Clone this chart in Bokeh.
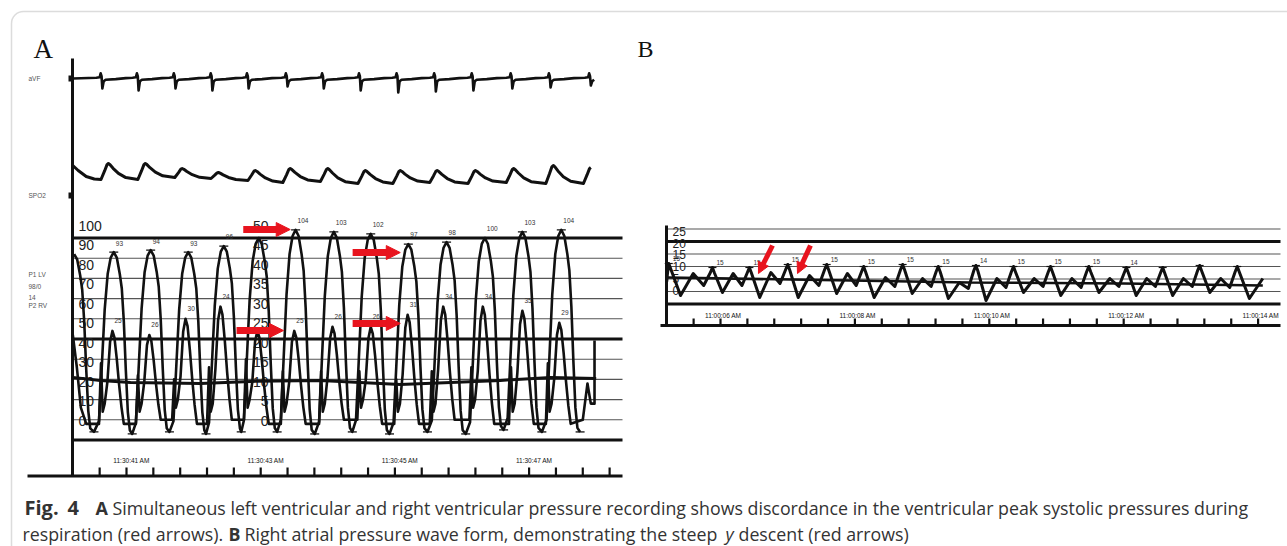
import math
from bokeh.plotting import figure
from bokeh.models import Range1d, Arrow, NormalHead, BoxAnnotation
from bokeh.core.properties import value
from bokeh.embed import file_html
from bokeh.resources import INLINE

# ===================== DATA =====================
# ---- Panel A (time = seconds after 11:30:00 AM) ----
ecg_t = [40.64, 41.18, 41.73, 42.28, 42.82, 43.40, 43.94, 44.49, 45.05, 45.61, 46.17, 46.75, 47.32, 47.92]
ecg_q = [-0.5, -0.6, -0.5, -0.6, -0.5, -0.4, -0.5, -0.6, -0.7, -0.65, -0.6, -0.5, -0.45, -0.35]

pleth_start_t = [40.20, 40.28, 40.40, 40.52]
pleth_start_v = [15, 10, 4, 1.5]
pleth_t = [40.73, 41.28, 41.83, 42.37, 42.92, 43.44, 44.00, 44.56, 45.08, 45.63, 46.20, 46.77, 47.36, 47.92]
pleth_peak = [17, 17, 12, 8, 10, 12, 12, 10, 10, 10, 10, 12, 15, 13]
pleth_trough = [1, 1, 3, 2, 0, -2, -1, -3, -3, -2, -3, -2, -3, -3]

lv_t = [40.22, 40.81, 41.36, 41.92, 42.45, 42.97, 43.52, 44.09, 44.64, 45.20, 45.77, 46.34, 46.90, 47.48]
lv_peak = [92, 93, 94, 93, 96, 100, 104, 103, 102, 97, 98, 100, 103, 104]
lv_min = [4, 3, 4, 3, 4, 4, 3, 4, 3, 4, 3, 5, 4, 4]
lv_label = ["", "93", "94", "93", "96", "", "104", "103", "102", "97", "98", "100", "103", "104"]

rv_start_t = [40.20, 40.26, 40.32, 40.40]
rv_start_v = [26, 18, 8, 4]
rv_t = [40.79, 41.34, 41.88, 42.40, 42.95, 43.50, 44.07, 44.64, 45.19, 45.72, 46.31, 46.90, 47.45]
rv_peak = [27, 26, 30, 33, 27, 27, 28, 28, 31, 33, 33, 32, 29]
rv_spike = [19, 16, 15, 18, 20, 17, 17, 17, 15, 17, 18, 18, 19]
rv_min = [4, 5, 4, 5, 4, 4, 5, 4, 4, 5, 4, 4, 4]
rv_label = ["25", "26", "30", "24", "", "25", "26", "26", "31", "34", "34", "35", "29"]
rv_tail_t = [47.80, 47.87, 47.92, 47.975, 47.975]
rv_tail_v = [5, 14, 9, 9, 24.6]

mean_t = [40.20, 40.61, 41.06, 42.10, 42.85, 43.89, 45.08, 45.83, 46.57, 47.32, 48.00]
mean_v = [31, 29.5, 28.5, 28, 29, 29.5, 27.5, 28.5, 29.5, 31, 30.5]

lv_scale = [100, 90, 80, 70, 60, 50, 40, 30, 20, 10, 0]
rv_scale = [50, 45, 40, 35, 30, 25, 20, 15, 10, 5, 0]
timeA_t = [41, 43, 45, 47]
timeA_labels = ["11:30:41 AM", "11:30:43 AM", "11:30:45 AM", "11:30:47 AM"]
channel_labels = ["aVF", "SPO2", "P1 LV", "98/0", "14", "P2 RV"]

# ---- Panel B (time = seconds after 11:00:00 AM) ----
ra_start_t, ra_start_v = 5.20, 4.0
ra_t = [5.23, 5.88, 6.43, 7.00, 7.58, 8.13, 8.71, 9.24, 9.80, 10.36, 10.91, 11.48, 12.04, 12.58, 13.13, 13.69]
ra_peak = [11.2, 9.6, 9.6, 10.8, 10.8, 10.0, 10.8, 10.0, 10.4, 10.0, 10.0, 10.0, 9.6, 9.6, 10.4, 10.0]
ra_trough = [-1.6, -0.4, -2.4, -2.4, -0.8, -2.4, -0.8, -2.8, -3.6, -0.4, -1.6, -0.4, -1.6, -1.6, -0.4, -2.8]
ra_bump = [7.2, 7.2, 7.6, 6.4, 7.2, 5.6, 5.2, 3.6, 5.2, 5.2, 5.2, 5.2, 5.2, 5.2, 5.2]
ra_dip = [2.4, 2.4, 3.2, 2.4, 2.4, 2.0, 2.0, 1.2, 1.6, 2.0, 1.6, 2.0, 2.0, 2.0, 1.6]
ra_end_t, ra_end_v = 14.07, 5.2
ra_label = ["15", "15", "15", "15", "15", "15", "15", "15", "14", "15", "15", "15", "14", "", "", ""]
ra_mean_t = [5.21, 9.70, 12.0, 14.07]
ra_mean_v = [5.6, 3.6, 3.2, 2.4]
ra_scale = [25, 20, 15, 10, 5, 0]
timeB_t = [6, 8, 10, 12, 14]
timeB_labels = ["11:00:06 AM", "11:00:08 AM", "11:00:10 AM", "11:00:12 AM", "11:00:14 AM"]

caption1 = "Simultaneous left ventricular and right ventricular pressure recording shows discordance in the ventricular peak systolic pressures during"
caption2a = "respiration (red arrows)."
caption2b = "Right atrial pressure wave form, demonstrating the steep"
caption2c = "descent (red arrows)"

# ===================== LAYOUT HELPERS =====================
W, H = 1287, 546
FX0, FX1, FY0, FY1 = 0, W, 0, H
def tA(px): return 41 + (px - 126) / 67.1
def pA(py): return (439.5 - py) / 2.02
def ecg(py): return (78 - py) / 20.0
def pl(py): return 180 - py
def tB(px): return 6 + (px - 720) / 67.2
def pB(py): return (291 - py) / 2.5

RED = "#e8141e"
INK = "#111111"
GRID = "#555555"
SANS = value("Liberation Sans")
SERIF = value("Liberation Serif")
CAPF = value("Open Sans")

p = figure(width=W, height=H, x_range=Range1d(FX0, FX1), y_range=Range1d(FY1, FY0),
           output_backend="svg", toolbar_location=None, min_border=0,
           x_axis_location=None, y_axis_location=None,
           background_fill_color="white", border_fill_color="white", outline_line_color=None)
p.xgrid.visible = False
p.ygrid.visible = False
p.extra_x_ranges = {"tA": Range1d(tA(FX0), tA(FX1)), "tB": Range1d(tB(FX0), tB(FX1))}
p.extra_y_ranges = {"pA": Range1d(pA(FY1), pA(FY0)), "rA": Range1d(pA(FY1) / 2, pA(FY0) / 2),
                    "ecg": Range1d(ecg(FY1), ecg(FY0)), "pl": Range1d(pl(FY1), pl(FY0)),
                    "pB": Range1d(pB(FY1), pB(FY0))}

# frame
p.add_layout(BoxAnnotation(left=11, right=1330, top=11, bottom=556, fill_alpha=0,
                           line_color="#8a8a8a", line_width=1.5, border_radius=12))

# ===================== PANEL A =====================
A = dict(x_range_name="tA", y_range_name="pA")
thin = [v for v in lv_scale if v not in (0, 50, 100)]
thick = [0, 50, 100]
p.segment(x0=[tA(72)] * len(thin), x1=[tA(622)] * len(thin), y0=thin, y1=thin, line_color=GRID, line_width=1.1, **A)
p.segment(x0=[tA(72)] * 3, x1=[tA(622)] * 3, y0=thick, y1=thick, line_color=INK, line_width=3, **A)

# axes
p.segment(x0=[tA(72)], x1=[tA(72)], y0=[pA(58)], y1=[pA(476)], line_color=INK, line_width=3, **A)
p.segment(x0=[tA(27)], x1=[tA(622)], y0=[pA(475.5)], y1=[pA(475.5)], line_color=INK, line_width=3.2, **A)
p.line(x=[tA(74), tA(622)], y=[pA(473)], line_color=INK, line_width=1.5, line_dash="1 2", **A)
ticks = [40.6 + 0.4 * k for k in range(20)]
p.segment(x0=ticks, x1=ticks, y0=[pA(475)] * len(ticks), y1=[pA(467)] * len(ticks), line_color=INK, line_width=2.2, **A)
p.text(x=[t + 0.075 for t in timeA_t], y=[pA(460)] * 4, text=timeA_labels, text_font=SANS,
       text_font_size="6.5px", text_color=INK, text_align="center", text_baseline="middle", **A)
# channel markers
p.segment(x0=[tA(68)], x1=[tA(72)], y0=[ecg(78)], y1=[ecg(78)], line_color=INK, line_width=6,
          x_range_name="tA", y_range_name="ecg")
p.segment(x0=[tA(68)], x1=[tA(72)], y0=[pl(195)], y1=[pl(195)], line_color=INK, line_width=6,
          x_range_name="tA", y_range_name="pl")
p.text(x=[28] * 6, y=[78, 195, 274, 286, 297, 305], text=channel_labels, text_font=SANS,
       text_font_size="6.5px", text_color="#555555", text_baseline="middle")

# scale labels
p.text(x=[tA(78)] * len(lv_scale), y=[v * 0.965 + 9.6 for v in lv_scale], text=[str(v) for v in lv_scale],
       text_font=SANS, text_font_size="14px", text_color="#222222", text_baseline="middle", **A)
p.text(x=[tA(268)] * len(rv_scale), y=[v * 1.93 + 9.6 for v in rv_scale], text=[str(v) for v in rv_scale],
       text_font=SANS, text_font_size="14px", text_color="#222222", text_baseline="middle", text_align="right", **A)

# ECG
ECG_SHAPE = [(-0.09, 0.04), (-0.04, 0.06), (-0.025, 0.26), (-0.012, 0.12), (0.0, None),
             (0.02, -0.14), (0.05, -0.06), (0.2, -0.03), (0.35, 0.02)]
ex, ey = [tA(72.5)], [0.0]
for i, (t0, q) in enumerate(zip(ecg_t, ecg_q)):
    for off, v in ECG_SHAPE:
        if i == len(ecg_t) - 1 and off > 0.05:
            break
        ex.append(t0 + off)
        ey.append(q if v is None else v)
p.line(ex, ey, line_color=INK, line_width=2.6, line_join="round", x_range_name="tA", y_range_name="ecg")

# Pleth
PL_RISE = [(-0.11, 0.0), (-0.055, 0.55), (-0.02, 0.93), (0.0, 1.0)]
PL_FALL = [(0.025, 0.92), (0.07, 0.7), (0.15, 0.38), (0.26, 0.12)]
plx, ply = list(pleth_start_t), list(pleth_start_v)
for i, t0 in enumerate(pleth_t):
    tr, pk = pleth_trough[i], pleth_peak[i]
    for off, f in PL_RISE:
        plx.append(t0 + off); ply.append(tr + f * (pk - tr))
    if i < len(pleth_t) - 1:
        tr2 = pleth_trough[i + 1]
        for off, f in PL_FALL:
            plx.append(t0 + off); ply.append(tr2 + f * (pk - tr2))
p.line(plx, ply, line_color=INK, line_width=3, line_join="round", x_range_name="tA", y_range_name="pl")

# mean trace
p.line(mean_t, mean_v, line_color=INK, line_width=3, line_join="round", **A)

# LV
LV_SHAPE = [(-0.22, 0.06), (-0.18, 0.35), (-0.135, 0.68), (-0.09, 0.88), (-0.045, 0.97), (0, 1.0),
            (0.045, 0.97), (0.09, 0.88), (0.12, 0.8), (0.15, 0.62), (0.18, 0.35), (0.21, 0.12), (0.24, 0.02)]
lx, ly, lvtx = [], [], []
for i, t0 in enumerate(lv_t):
    prev = lv_min[i - 1] if i > 0 else lv_min[0]
    for off, f in LV_SHAPE:
        if i == 0 and off < 0:
            continue
        base = prev if off < 0 else lv_min[i]
        lx.append(t0 + off); ly.append(base + f * (lv_peak[i] - base))
    tm = (t0 + lv_t[i + 1]) / 2 if i < len(lv_t) - 1 else t0 + 0.28
    lx.append(tm); ly.append(lv_min[i]); lvtx.append(tm)
p.line(lx, ly, line_color=INK, line_width=2.6, line_join="round", **A)
p.scatter(x=lv_t[1:], y=lv_peak[1:], marker="dash", size=9, line_width=1.3, color=INK, **A)
p.scatter(x=lvtx, y=lv_min, marker="dash", size=9, line_width=1.3, color=INK, **A)
p.text(x=[t + 0.03 for t in lv_t], y=[v + 4.5 for v in lv_peak], text=lv_label, text_font=SANS,
       text_font_size="6.5px", text_color="#333333", text_baseline="middle", **A)

# RV
R = dict(x_range_name="tA", y_range_name="rA")
RV_SHAPE = [(-0.20, "prev", 0), (-0.17, "spike", 0), (-0.145, "prev", 3), (-0.115, "prev", 5),
            (-0.075, "f", 0.45), (-0.035, "f", 0.88), (0, "f", 1.0), (0.03, "f", 0.93), (0.065, "f", 0.7),
            (0.10, "f", 0.42), (0.135, "f", 0.18), (0.17, "min", 0)]
rx, ry = list(rv_start_t), list(rv_start_v)
for i, t0 in enumerate(rv_t):
    prev = rv_min[i - 1] if i > 0 else rv_start_v[-1]
    for off, kind, f in RV_SHAPE:
        if kind == "prev":
            v = prev + f
        elif kind == "spike":
            v = rv_spike[i]
        elif kind == "min":
            v = rv_min[i]
        else:
            v = rv_min[i] + f * (rv_peak[i] - rv_min[i])
        rx.append(t0 + off); ry.append(v)
rx += rv_tail_t
ry += rv_tail_v
p.line(rx, ry, line_color=INK, line_width=2.6, line_join="round", **R)
p.text(x=[t + 0.03 for t in rv_t], y=[v + 2.5 for v in rv_peak], text=rv_label, text_font=SANS,
       text_font_size="6.5px", text_color="#333333", text_baseline="middle", **R)

# red arrows (annotation positions: tail t, value, tip t, value)
arrowsA = [(42.74, 104.2, 43.44, 104.2), (42.64, 54.2, 43.34, 54.2),
           (44.37, 92.8, 45.08, 92.8), (44.37, 57.7, 45.08, 57.7)]
arrowsB = [(6.774, 18.4, 6.565, 7.2), (7.339, 18.4, 7.146, 7.2)]

def draw_arrow(x0, y0, x1, y1, sx, sy, xr, yr, width, head):
    dx, dy = (x1 - x0) * sx, (y1 - y0) * sy
    L = math.hypot(dx, dy)
    k = (head * 0.8) / L
    xs, ys = x1 - (x1 - x0) * k, y1 - (y1 - y0) * k
    p.segment(x0=[x0], y0=[y0], x1=[xs], y1=[ys], line_color=RED, line_width=width,
              x_range_name=xr, y_range_name=yr)
    p.add_layout(Arrow(end=NormalHead(size=head, fill_color=RED, line_color=RED, line_width=1),
                       x_start=xs, y_start=ys, x_end=x1, y_end=y1, line_alpha=0.0,
                       x_range_name=xr, y_range_name=yr))

for a in arrowsA:
    draw_arrow(*a, 67.1, 2.02, "tA", "pA", 7, 14)

# ===================== PANEL B =====================
B = dict(x_range_name="tB", y_range_name="pB")
thinB = [25, 15, 10, 5, 0]
thickB = [20, -5]
p.segment(x0=[tB(666)] * 5, x1=[tB(1280)] * 5, y0=thinB, y1=thinB, line_color=GRID, line_width=1.1, **B)
p.segment(x0=[tB(666)] * 2, x1=[tB(1280)] * 2, y0=thickB, y1=thickB, line_color=INK, line_width=2.8, **B)
p.segment(x0=[tB(666)], x1=[tB(666)], y0=[pB(225)], y1=[pB(326)], line_color=INK, line_width=3, **B)
p.segment(x0=[tB(660)], x1=[tB(1280)], y0=[pB(325)], y1=[pB(325)], line_color=INK, line_width=3, **B)
p.line(x=[tB(668), tB(1278)], y=[pB(323)], line_color=INK, line_width=1.4, line_dash="1 2", **B)
ticksB = [5.6 + 0.4 * k for k in range(22)]
p.segment(x0=ticksB, x1=ticksB, y0=[pB(325)] * len(ticksB), y1=[pB(318)] * len(ticksB), line_color=INK, line_width=2.2, **B)
p.text(x=[t + 0.04 for t in timeB_t], y=[pB(315)] * 5, text=timeB_labels, text_font=SANS,
       text_font_size="6.5px", text_color=INK, text_align="center", text_baseline="middle", **B)
p.text(x=[tB(672)] * len(ra_scale), y=[v * 0.95 + 0.4 for v in ra_scale], text=[str(v) for v in ra_scale],
       text_font=SANS, text_font_size="12px", text_color="#222222", text_baseline="middle", **B)

bx, by = [ra_start_t], [ra_start_v]
for i, t0 in enumerate(ra_t):
    bx += [t0 - 0.03, t0, t0 + 0.03]
    by += [ra_peak[i] - 2.0, ra_peak[i], ra_peak[i] - 2.2]
    if i < len(ra_t) - 1:
        T = ra_t[i + 1] - t0
        bx += [t0 + 0.27 * T, t0 + 0.56 * T, t0 + 0.80 * T]
        by += [ra_trough[i], ra_bump[i], ra_dip[i]]
    else:
        bx.append(t0 + 0.18); by.append(ra_trough[i])
bx.append(ra_end_t); by.append(ra_end_v)
bx[1], by[1] = ra_start_t + 0.01, ra_start_v + 3
p.line(ra_mean_t, ra_mean_v, line_color=INK, line_width=2.6, **B)
p.line(bx, by, line_color=INK, line_width=3, line_join="round", **B)
p.scatter(x=ra_t, y=ra_peak, marker="dash", size=8, line_width=1.2, color=INK, **B)
p.text(x=[t + 0.06 for t in ra_t], y=[v + 2.2 for v in ra_peak], text=ra_label, text_font=SANS,
       text_font_size="6.5px", text_color="#333333", text_baseline="middle", **B)

for a in arrowsB:
    draw_arrow(*a, 67.2, 2.5, "tB", "pB", 5, 11)

# ===================== LABELS & CAPTION =====================
p.text(x=[33], y=[48], text=["A"], text_font=SERIF, text_font_size="27px", text_color=INK, text_baseline="alphabetic")
p.text(x=[637], y=[48], text=["B"], text_font=SERIF, text_font_size="24px", text_color=INK, text_baseline="alphabetic")

cap = dict(text_font=CAPF, text_color="#333333", text_baseline="alphabetic")
p.text(x=[24], y=[507], text=["Fig."], text_font_style="bold", text_font_size="20px", **cap)
p.text(x=[67], y=[507], text=["4"], text_font_style="bold", text_font_size="20px", **cap)
p.text(x=[95], y=[507], text=["A"], text_font_style="bold", text_font_size="18px", **cap)
p.text(x=[112], y=[507], text=[caption1], text_font_size="17.8px", **cap)
p.text(x=[22], y=[533], text=[caption2a], text_font_size="17.8px", **cap)
p.text(x=[228], y=[533], text=["B"], text_font_style="bold", text_font_size="17.8px", **cap)
p.text(x=[244], y=[533], text=[caption2b], text_font_size="17.8px", **cap)
p.text(x=[725], y=[533], text=["y"], text_font_style="italic", text_font_size="17.8px", **cap)
p.text(x=[738], y=[533], text=[caption2c], text_font_size="17.8px", **cap)

open("out.html", "w").write(file_html(p, INLINE))
